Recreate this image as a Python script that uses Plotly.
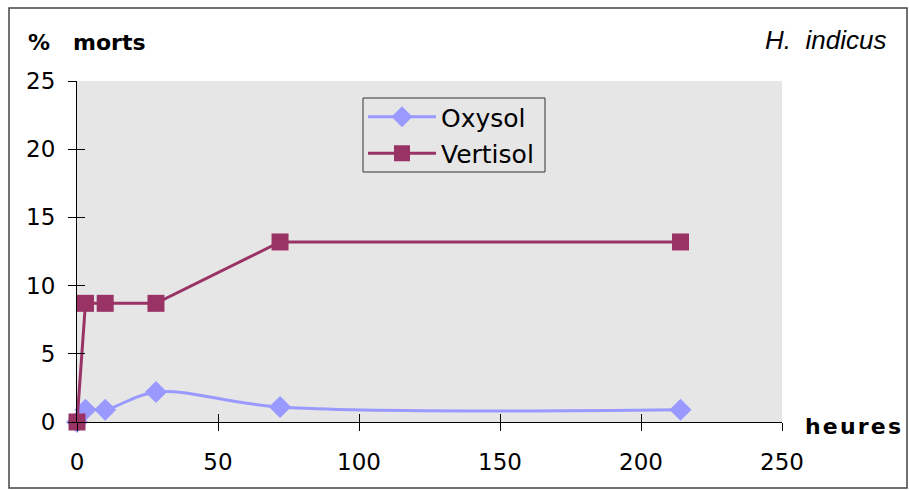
import plotly.graph_objects as go

# heures d'exposition et % de morts
heures = [0, 3, 10, 28, 72, 214]
oxysol = [0, 0.9, 0.9, 2.2, 1.1, 0.9]
vertisol = [0, 8.7, 8.7, 8.7, 13.2, 13.2]

x_ticks = [0, 50, 100, 150, 200, 250]
y_ticks = [0, 5, 10, 15, 20, 25]

W, H = 909, 490
L, R, T, B = 77, 127, 81, 68
pw, ph = W - L - R, H - T - B

font_main = "DejaVu Sans"

fig = go.Figure()

fig.add_trace(go.Scatter(
    x=heures, y=oxysol, name="Oxysol", legendgroup="oxy",
    mode="lines+markers",
    line=dict(color="#9999ff", width=3, shape="spline", smoothing=1),
    marker=dict(symbol="diamond", size=17, color="#9999ff"),
    cliponaxis=False
))
fig.add_trace(go.Scatter(
    x=heures, y=vertisol, name="Vertisol", legendgroup="vert",
    mode="lines+markers",
    line=dict(color="#993366", width=3),
    marker=dict(symbol="square", size=17, color="#993366"),
    cliponaxis=False
))
# trace invisible pour les axes superposés (ticks croisés)
fig.add_trace(go.Scatter(x=[0], y=[0], xaxis="x2", yaxis="y2",
                         mode="markers", marker=dict(opacity=0),
                         showlegend=False, hoverinfo="skip"))

axis_common = dict(showgrid=False, zeroline=False, showline=True,
                   linecolor="black", linewidth=1,
                   ticks="outside", ticklen=8, tickcolor="black", tickwidth=1,
                   tickfont=dict(family=font_main, size=23, color="black"))

fig.update_layout(
    width=W, height=H,
    margin=dict(l=L, r=R, t=T, b=B),
    paper_bgcolor="white",
    plot_bgcolor="#e6e6e6",
    showlegend=True,
    legend=dict(x=(363 - L) / pw, y=(H - B - 94) / ph, xanchor="left", yanchor="top",
                bgcolor="rgba(0,0,0,0)", borderwidth=0,
                font=dict(family=font_main, size=25, color="black"),
                itemwidth=68, traceorder="grouped", tracegroupgap=1),
    xaxis=dict(range=[0, 250], tickvals=x_ticks, ticklabelstandoff=11, **axis_common),
    yaxis=dict(range=[0, 25], tickvals=y_ticks, ticklabelstandoff=8, **axis_common),
    xaxis2=dict(overlaying="x", range=[0, 250], tickvals=x_ticks, showticklabels=False,
                ticks="inside", ticklen=8, tickcolor="black", showgrid=False,
                zeroline=False, showline=False),
    yaxis2=dict(overlaying="y", range=[0, 25], tickvals=y_ticks, showticklabels=False,
                ticks="inside", ticklen=8, tickcolor="black", showgrid=False,
                zeroline=False, showline=False),
)

fig.add_annotation(text="<b>%   morts</b>", xref="paper", yref="paper",
                   x=(26 - L) / pw, y=(H - B - 42) / ph, xanchor="left", yanchor="middle",
                   showarrow=False, font=dict(family=font_main, size=22, color="black"))
fig.add_annotation(text="<i>H.  indicus</i>", xref="paper", yref="paper",
                   x=(888 - L) / pw, y=(H - B - 40) / ph, xanchor="right", yanchor="middle",
                   showarrow=False, font=dict(family="Liberation Sans", size=26, color="black"))
fig.add_annotation(text="<b>h\u200ae\u200au\u200ar\u200ae\u200as</b>", xref="paper", yref="paper",
                   x=(803 - L) / pw, y=(H - B - 426) / ph, xanchor="left", yanchor="middle",
                   showarrow=False, font=dict(family=font_main, size=22, color="black"))

# cadre de la légende
fig.add_shape(type="rect", xref="paper", yref="paper",
              x0=(363 - L) / pw, x1=(545 - L) / pw,
              y0=(H - B - 172) / ph, y1=(H - B - 98) / ph,
              line=dict(color="#333333", width=1), fillcolor="rgba(0,0,0,0)")

# cadre extérieur
fig.add_shape(type="rect", xref="paper", yref="paper",
              x0=(9 - L) / pw, x1=(907 - L) / pw,
              y0=(H - B - 488) / ph, y1=(H - B - 8) / ph,
              line=dict(color="#444444", width=1.5), fillcolor="rgba(0,0,0,0)")

fig.write_html("out.html", config={"displayModeBar": False},
               post_script="document.body.style.margin='0';")
